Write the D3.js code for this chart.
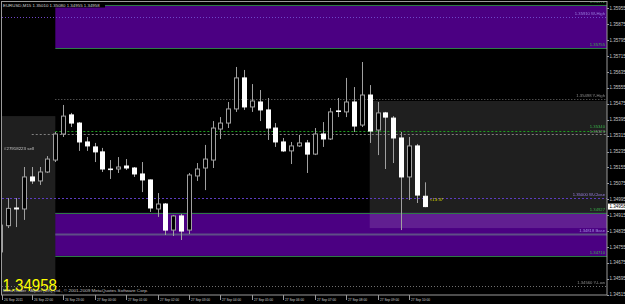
<!DOCTYPE html>
<html>
<head>
<meta charset="utf-8">
<script src="https://cdnjs.cloudflare.com/ajax/libs/d3/7.8.5/d3.min.js"></script>
<style>
  body { margin: 0; background: #000; }
  svg { display: block; }
  text { font-family: "Liberation Sans", Arial, sans-serif; }
</style>
</head>
<body>
<div id="vis"></div>
<script>

// Data ----------------------------------------------------------------------

var symbol = "EURUSD,M15";
var firstBar = "2011-09-26 21:00";   // M15 bars, one every 15 minutes

var open  = [1.34730, 1.34862, 1.34951, 1.34946, 1.35107, 1.35087, 1.35132, 1.35192, 1.35323, 1.35419,
             1.35378, 1.35283, 1.35258, 1.35233, 1.35147, 1.35147, 1.35162, 1.35152, 1.35122, 1.35092,
             1.34946, 1.34971, 1.34840, 1.34911, 1.34840, 1.35112, 1.35152, 1.35192, 1.35348, 1.35378,
             1.35449, 1.35605, 1.35459, 1.35484, 1.35444, 1.35353, 1.35283, 1.35238, 1.35263, 1.35278,
             1.35222, 1.35323, 1.35298, 1.35439, 1.35434, 1.35484, 1.35368, 1.35519, 1.35343, 1.35429,
             1.35403, 1.35303, 1.35107, 1.35263, 1.35010];
var high  = [1.34891, 1.35001, 1.35001, 1.35157, 1.35157, 1.35157, 1.35212, 1.35333, 1.35469, 1.35429,
             1.35383, 1.35308, 1.35278, 1.35253, 1.35192, 1.35207, 1.35197, 1.35157, 1.35182, 1.35094,
             1.35026, 1.34976, 1.34916, 1.34921, 1.35127, 1.35177, 1.35268, 1.35388, 1.35408, 1.35484,
             1.35660, 1.35645, 1.35574, 1.35544, 1.35504, 1.35378, 1.35303, 1.35283, 1.35318, 1.35293,
             1.35353, 1.35383, 1.35454, 1.35504, 1.35605, 1.35559, 1.35685, 1.35569, 1.35484, 1.35434,
             1.35413, 1.35333, 1.35308, 1.35273, 1.35080];
var low   = [1.34700, 1.34850, 1.34855, 1.34891, 1.35072, 1.35067, 1.35127, 1.35182, 1.35308, 1.35358,
             1.35238, 1.35238, 1.35182, 1.35132, 1.35097, 1.35127, 1.35142, 1.35107, 1.35031, 1.34931,
             1.34906, 1.34815, 1.34810, 1.34790, 1.34820, 1.35087, 1.35041, 1.35152, 1.35298, 1.35353,
             1.35434, 1.35444, 1.35434, 1.35388, 1.35293, 1.35258, 1.35233, 1.35172, 1.35258, 1.35127,
             1.35217, 1.35258, 1.35293, 1.35408, 1.35408, 1.35333, 1.35358, 1.35278, 1.35217, 1.35147,
             1.35177, 1.34840, 1.34991, 1.34976, 1.34955];
var close = [1.34865, 1.34949, 1.34946, 1.35107, 1.35087, 1.35132, 1.35197, 1.35323, 1.35413, 1.35378,
             1.35283, 1.35263, 1.35233, 1.35147, 1.35146, 1.35157, 1.35152, 1.35122, 1.35092, 1.34951,
             1.34971, 1.34840, 1.34911, 1.34835, 1.35117, 1.35147, 1.35197, 1.35353, 1.35378, 1.35449,
             1.35605, 1.35459, 1.35489, 1.35444, 1.35353, 1.35283, 1.35238, 1.35263, 1.35278, 1.35222,
             1.35323, 1.35298, 1.35434, 1.35438, 1.35484, 1.35363, 1.35519, 1.35338, 1.35429, 1.35408,
             1.35303, 1.35107, 1.35263, 1.35016, 1.34958];

// time axis: bar index and label
var timeTickBars   = [0, 4, 8, 12, 16, 20, 24, 28, 32, 36, 40, 44, 48, 52];
var timeTickLabels = ["26 Sep 2011", "26 Sep 22:00", "26 Sep 23:00", "27 Sep 00:00", "27 Sep 01:00",
                      "27 Sep 02:00", "27 Sep 03:00", "27 Sep 04:00", "27 Sep 05:00", "27 Sep 06:00",
                      "27 Sep 07:00", "27 Sep 08:00", "27 Sep 09:00", "27 Sep 10:00"];

var priceTicks = [1.35955, 1.35875, 1.35795, 1.35715, 1.35635, 1.35555, 1.35475, 1.35395, 1.35315,
                  1.35235, 1.35155, 1.35075, 1.34995, 1.34915, 1.34835, 1.34755, 1.34675, 1.34595,
                  1.34515];

// horizontal levels drawn by indicators / the open order
var levelPrices = [1.35972, 1.35910, 1.35755, 1.35498, 1.35340, 1.35323, 1.35000, 1.34927, 1.34818, 1.34710, 1.34560];
var levelNames  = ["",      "W-High", "",     "Y-High", "",      "",      "W-Close", "",     "Base",  "",      "Y-Low"];
var levelKinds  = ["zone",  "pivot",  "zone", "grey",   "green", "order", "pivotD", "zone",  "base",  "zone",  "grey"];
var levelFrom   = [7,       -1,       7,      7,        7,       4,       -1,       7,       7,       7,       -1];

// rectangles: first and last bar (null = to the right edge), top and bottom price
var zoneFrom   = [7,       7,       -1,      47];
var zoneTo     = [null,    null,    7,       null];
var zoneTop    = [1.35972, 1.34927, 1.35413, 1.35489];
var zoneBottom = [1.35755, 1.34710, 1.34400, 1.34850];
var zoneKinds  = ["purple", "purple", "grey", "grey"];

var orderLabel = "#27918223 sell";
var timerLabel = "<13:37";
var copyright  = "MetaTrader - Alpari (UK) Ltd., \u00a9 2001-2009 MetaQuotes Software Corp.";


// Setup ---------------------------------------------------------------------

var width = 625, height = 304;
var plotLeft = 2, plotRight = 607, plotTop = 2, plotBottom = 295;

var x = d3.scaleLinear()
  .domain([0, 54])
  .range([0.3, 0.3 + 54 * 7.86]);

var y = d3.scaleLinear()
  .domain([1.34515, 1.35955])
  .range([294.7, 8.3]);

var zoneColor = { purple: "#4b0082", grey: "#1f1f1f" };

var levelStyle = {
  zone:   { stroke: "#2d7a45", dash: null,  width: 1, text: "#38b048", dy: -1.6 },
  pivot:  { stroke: "#7048c8", dash: "1,2", width: 1, text: "#9a80e0", dy: -1.6 },
  pivotD: { stroke: "#5c3cc0", dash: "2,2", width: 1, text: "#9a80e0", dy: -1.6 },
  grey:   { stroke: "#707070", dash: "1,2", width: 1, text: "#8c8c8c", dy: -1.6 },
  green:  { stroke: "#1fa01f", dash: "2,2", width: 1, text: "#38b048", dy: -3.2 },
  order:  { stroke: "#808080", dash: "2,2", width: 1, text: "#8c8c8c", dy: -1.2 },
  base:   { stroke: "#5e4e86", dash: null,  width: 2, text: "#a08ce0", dy: -1.6 }
};

var fmt = d3.format(".5f");

var svg = d3.select("#vis").append("svg")
  .attr("width", width)
  .attr("height", height);

svg.append("rect")
  .attr("width", width)
  .attr("height", height)
  .attr("fill", "#000");

svg.append("clipPath").attr("id", "plot-clip")
  .append("rect")
  .attr("x", plotLeft).attr("y", plotTop)
  .attr("width", plotRight - plotLeft).attr("height", plotBottom - plotTop);

var plot = svg.append("g").attr("clip-path", "url(#plot-clip)");

function xFrom(i) { return i < 0 ? plotLeft : x(i); }
function xTo(i) { return i == null ? plotRight : x(i); }


// Zones ---------------------------------------------------------------------

plot.selectAll(".zone")
  .data(zoneTop.map(function(t, i) {
    return { from: zoneFrom[i], to: zoneTo[i], top: t, bottom: zoneBottom[i], kind: zoneKinds[i] };
  }))
  .enter().append("rect")
    .attr("class", "zone")
    .attr("x", function(d) { return xFrom(d.from); })
    .attr("y", function(d) { return y(d.top); })
    .attr("width", function(d) { return xTo(d.to) - xFrom(d.from); })
    .attr("height", function(d) { return y(d.bottom) - y(d.top); })
    .attr("fill", function(d) { return zoneColor[d.kind]; })
    .style("mix-blend-mode", function(d) { return d.kind == "grey" ? "screen" : null; });


// Levels --------------------------------------------------------------------

var levels = levelPrices.map(function(p, i) {
  return { price: p, name: levelNames[i], kind: levelKinds[i], from: levelFrom[i] };
});

plot.selectAll(".level")
  .data(levels)
  .enter().append("line")
    .attr("class", "level")
    .attr("x1", function(d) { return xFrom(d.from); })
    .attr("x2", plotRight)
    .attr("y1", function(d) { return Math.round(y(d.price)) + 0.5; })
    .attr("y2", function(d) { return Math.round(y(d.price)) + 0.5; })
    .attr("stroke", function(d) { return levelStyle[d.kind].stroke; })
    .attr("stroke-width", function(d) { return levelStyle[d.kind].width; })
    .attr("stroke-dasharray", function(d) { return levelStyle[d.kind].dash; });

plot.selectAll(".level-label")
  .data(levels)
  .enter().append("text")
    .attr("class", "level-label")
    .attr("x", plotRight - 2)
    .attr("y", function(d) { return Math.round(y(d.price)) + levelStyle[d.kind].dy; })
    .attr("text-anchor", "end")
    .attr("font-size", 4.2)
    .attr("fill", function(d) { return levelStyle[d.kind].text; })
    .text(function(d) { return fmt(d.price) + (d.name ? "  " + d.name : ""); });


// Candles -------------------------------------------------------------------

var bars = open.map(function(o, i) {
  return { i: i, o: o, h: high[i], l: low[i], c: close[i] };
});

var candle = plot.selectAll(".candle")
  .data(bars)
  .enter().append("g")
    .attr("class", "candle")
    .attr("transform", function(d) { return "translate(" + (Math.round(x(d.i)) + 0.5) + ",0)"; });

candle.append("line")
  .attr("y1", function(d) { return y(d.h); })
  .attr("y2", function(d) { return y(d.l); })
  .attr("stroke", "#a0a0a0");

candle.append("rect")
  .attr("x", -2)
  .attr("width", 4)
  .attr("y", function(d) { return y(Math.max(d.o, d.c)); })
  .attr("height", function(d) { return Math.max(0.6, Math.abs(y(d.o) - y(d.c))); })
  .attr("fill", function(d) { return d.c < d.o ? "#fff" : "#000"; })
  .attr("stroke", function(d) { return d.c < d.o ? "#fff" : "#a0a0a0"; });

// countdown to the next bar
plot.append("text")
  .attr("x", x(54) + 5)
  .attr("y", y(close[54]) - 5.5)
  .attr("font-size", 4.4)
  .attr("fill", "#d8d800")
  .text(timerLabel);

// order label
plot.append("text")
  .attr("x", 4)
  .attr("y", 149.5)
  .attr("font-size", 4.4)
  .attr("fill", "#c8c8c8")
  .text(orderLabel);


// Frame and axes ------------------------------------------------------------

svg.append("rect")
  .attr("x", plotLeft - 0.5).attr("y", plotTop - 0.5)
  .attr("width", plotRight - plotLeft + 0.5).attr("height", plotBottom - plotTop + 0.5)
  .attr("fill", "none")
  .attr("stroke", "#9a9a9a");

// price axis
var pAxis = svg.append("g");

pAxis.selectAll("line")
  .data(priceTicks)
  .enter().append("line")
    .attr("x1", plotRight).attr("x2", plotRight + 2)
    .attr("y1", function(d) { return Math.round(y(d)) + 0.5; })
    .attr("y2", function(d) { return Math.round(y(d)) + 0.5; })
    .attr("stroke", "#9a9a9a");

pAxis.selectAll("text")
  .data(priceTicks)
  .enter().append("text")
    .attr("x", plotRight + 2.5)
    .attr("y", function(d) { return y(d) + 1.6; })
    .attr("font-size", 4.5)
    .attr("fill", "#c8c8c8")
    .text(function(d) { return fmt(d); });

// current price on the axis
var last = close[close.length - 1];
pAxis.append("rect")
  .attr("x", plotRight + 1).attr("y", y(last) - 3)
  .attr("width", width - plotRight).attr("height", 6)
  .attr("fill", "#fff");
pAxis.append("text")
  .attr("x", plotRight + 2.5)
  .attr("y", y(last) + 1.6)
  .attr("font-size", 4.5)
  .attr("fill", "#000")
  .text(fmt(last));

// time axis
var tAxis = svg.append("g");

tAxis.selectAll("line")
  .data(timeTickBars)
  .enter().append("line")
    .attr("x1", function(d) { return Math.max(plotLeft, Math.round(x(d))) + 0.5; })
    .attr("x2", function(d) { return Math.max(plotLeft, Math.round(x(d))) + 0.5; })
    .attr("y1", plotBottom).attr("y2", plotBottom + 5)
    .attr("stroke", "#9a9a9a");

tAxis.selectAll("text")
  .data(timeTickBars)
  .enter().append("text")
    .attr("x", function(d) { return Math.max(plotLeft, Math.round(x(d))) + 2; })
    .attr("y", plotBottom + 5.8)
    .attr("font-size", 3.8)
    .attr("textLength", 19)
    .attr("lengthAdjust", "spacingAndGlyphs")
    .attr("fill", "#c8c8c8")
    .text(function(d, i) { return timeTickLabels[i]; });


// Header and footer texts ---------------------------------------------------

svg.append("rect")
  .attr("x", plotLeft).attr("y", plotTop)
  .attr("width", 103).attr("height", 5.5)
  .attr("fill", "#000");

svg.append("text")
  .attr("x", 3)
  .attr("y", 6.6)
  .attr("font-size", 4.4)
  .attr("fill", "#d0d0d0")
  .text(symbol + "  " + [open[54], high[54], low[54], close[54]].map(fmt).join(" "));

svg.append("text")
  .attr("x", 2.5)
  .attr("y", 291)
  .attr("font-size", 16.5)
  .attr("textLength", 54.5)
  .attr("lengthAdjust", "spacingAndGlyphs")
  .attr("fill", "#ffff00")
  .text(fmt(last));

svg.append("text")
  .attr("x", 3)
  .attr("y", 292.3)
  .attr("font-size", 4.2)
  .attr("textLength", 145)
  .attr("lengthAdjust", "spacingAndGlyphs")
  .attr("fill", "#c0c0c0")
  .text(copyright);

</script>
</body>
</html>
